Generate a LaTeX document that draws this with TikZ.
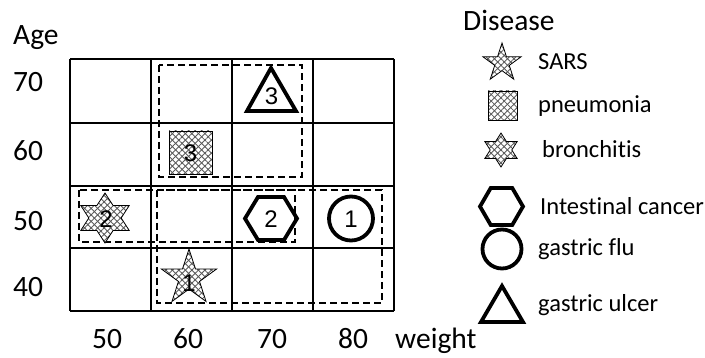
\documentclass[tikz,border=0pt]{standalone}
\usepackage{fontspec}
\setmainfont{Carlito}[Ligatures={NoCommon}]
\newfontfamily\arialf{Liberation Sans}
\usetikzlibrary{patterns.meta}
\tikzset{
  hatchcol/.style={pattern color=gray!70!black},
  hatched/.style={draw=black, line width=0.8pt, line join=miter,
    preaction={fill=white},
    preaction={pattern={Lines[angle=-45,distance=4.6pt,line width=0.85pt]}, hatchcol},
    pattern={Lines[angle=45,distance=4.6pt,line width=0.85pt]}, hatchcol},
  heavy/.style={draw=black, line width=3.8pt, line join=miter},
  gridline/.style={draw=black, line width=2pt},
  dashbox/.style={draw=black, line width=1.2pt, dash pattern=on 7pt off 4pt},
  axlab/.style={font=\fontsize{29.5}{31}\selectfont, anchor=base west, inner sep=0pt},
  leglab/.style={font=\fontsize{24.5}{26}\selectfont, anchor=base west, inner sep=0pt},
  numlab/.style={font=\arialf\fontsize{24}{26}\selectfont, inner sep=0pt},
}
\newcommand\fivestarat[3]{\draw[hatched, shift={(#1,#2)}] (90:#3pt)
  foreach \k in {1,...,9}{ -- ({90+36*\k}:{(mod(\k,2)==1 ? 0.382 : 1)*#3pt}) } -- cycle;}
\newcommand\sixstarat[4]{\draw[hatched, shift={(#1,#2)}, xscale=#4] (90:#3pt)
  foreach \k in {1,...,11}{ -- ({90+30*\k}:{(mod(\k,2)==1 ? 0.57735 : 1)*#3pt}) } -- cycle;}
\newcommand\hexat[4]{\draw[heavy, shift={(#1,#2)}] (-#3,0) -- (-#3/2,-#4) -- (#3/2,-#4) -- (#3,0) -- (#3/2,#4) -- (-#3/2,#4) -- cycle;}
\begin{document}
\begin{tikzpicture}[x=1pt, y=-1pt]
\useasboundingbox (0,0) rectangle (705,358);
% grid
\foreach \gx in {70,151,232,313,394} \draw[gridline] (\gx,59) -- (\gx,311);
\foreach \gy in {59,123,186,248,311} \draw[gridline] (70,\gy) -- (394,\gy);
% dashed groups
\draw[dashbox] (159,65) rectangle (302,177);
\draw[dashbox] (79,190) rectangle (295,242);
\draw[dashbox] (157,190) rectangle (382,303);
% shapes in grid
\draw[heavy] (247,111) -- (271,68) -- (296,111) -- cycle;
\node[numlab] (t3) at (271.5,96) {3};
\draw[hatched] (169,131) rectangle (212,174);
\node[numlab] (p3) at (190.5,153) {3};
\sixstarat{105}{218}{25}{1.12}
\node[numlab] (b2) at (106,219) {2};
\hexat{271}{218.5}{26}{21.5}
\node[numlab] (h2) at (271,219) {2};
\draw[heavy] (351,218.5) circle (22);
\node[numlab] (c1) at (351,219) {1};
\fivestarat{189}{278}{29}
\node[numlab] (s1) at (189,283) {1};
% axis labels
\node[axlab] (age) at (13,45) {Age};
\node[axlab] (a70) at (13,92) {70};
\node[axlab] (a60) at (13,161) {60};
\node[axlab] (a50) at (13,231) {50};
\node[axlab] (a40) at (13,297) {40};
\node[axlab] (w50) at (92,349) {50};
\node[axlab] (w60) at (173,349) {60};
\node[axlab] (w70) at (257,349) {70};
\node[axlab] (w80) at (338,349) {80};
\node[axlab] (wt) at (395,349) {weight};
% legend
\node[axlab] (dis) at (463,31) {Disease};
\fivestarat{502}{63}{20}
\node[leglab] (l1) at (538,70) {SARS};
\draw[hatched] (488,91) rectangle (517,120);
\node[leglab] (l2) at (538,113) {pneumonia};
\sixstarat{501}{150}{17}{1.1}
\node[leglab] (l3) at (542,158) {bronchitis};
\hexat{501.5}{206.5}{21.5}{18.5}
\node[leglab] (l4) at (540,215) {Intestinal cancer};
\draw[heavy] (502,249) circle (19.5);
\node[leglab] (l5) at (538,256) {gastric flu};
\draw[heavy] (481,322) -- (502,286) -- (523,322) -- cycle;
\node[leglab] (l6) at (538,312) {gastric ulcer};
\end{tikzpicture}
\end{document}
